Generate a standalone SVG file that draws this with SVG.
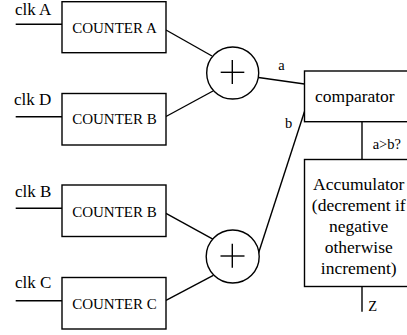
<svg xmlns="http://www.w3.org/2000/svg" width="407" height="335" viewBox="0 0 407 335">
<style>
.box{fill:#fff;stroke:#000;stroke-width:1.4}
.ln{fill:none;stroke:#000;stroke-width:1.4}
.cnt{font-size:15px;text-anchor:middle}
.clk{font-size:17px}
.big{font-size:17.5px}
.acc{font-size:17.5px;text-anchor:middle}
.sm{font-size:14.5px}
</style>
<rect width="407" height="335" fill="#fff"/>
<g font-family="'Liberation Serif', 'Times New Roman', serif" fill="#000">
<g id="connectors">
<line class="ln" x1="15.7" y1="24.3" x2="62" y2="24.3"/>
<line class="ln" x1="15.7" y1="116.7" x2="62" y2="116.7"/>
<line class="ln" x1="15.7" y1="208.3" x2="62" y2="208.3"/>
<line class="ln" x1="15.7" y1="300.7" x2="62" y2="300.7"/>
<line class="ln" x1="166" y1="30" x2="212" y2="56"/>
<line class="ln" x1="166" y1="116.5" x2="213" y2="91"/>
<line class="ln" x1="166" y1="213.3" x2="213.3" y2="239.3"/>
<line class="ln" x1="166" y1="300.3" x2="213.3" y2="275.3"/>
<line class="ln" x1="258.5" y1="77.5" x2="304.5" y2="84"/>
<line class="ln" x1="258.3" y1="253.7" x2="304.5" y2="111.5"/>
<line class="ln" x1="362" y1="121.7" x2="362" y2="159.5"/>
<line class="ln" x1="362" y1="286.5" x2="362" y2="311.7"/>
<text class="sm" x="278.3" y="70">a</text>
<text class="sm" x="285" y="127.7">b</text>
<text class="sm" x="372.7" y="149.3">a&gt;b?</text>
<text class="sm" x="368.3" y="310.7">Z</text>
</g>
<g id="clkA"><text class="clk" x="15" y="14.5">clk A</text></g>
<g id="clkD"><text class="clk" x="14" y="105">clk D</text></g>
<g id="clkB"><text class="clk" x="15" y="197.3">clk B</text></g>
<g id="clkC"><text class="clk" x="15" y="288.3">clk C</text></g>
<g id="counterA">
<rect class="box" x="62" y="1.7" width="104" height="51"/>
<text class="cnt" x="114.5" y="33.3">COUNTER A</text>
</g>
<g id="counterB1">
<rect class="box" x="62" y="93.5" width="104" height="51.5"/>
<text class="cnt" x="114.5" y="124">COUNTER B</text>
</g>
<g id="counterB2">
<rect class="box" x="62" y="185" width="104" height="51.5"/>
<text class="cnt" x="114.5" y="217.3">COUNTER B</text>
</g>
<g id="counterC">
<rect class="box" x="62" y="277.5" width="104" height="51.5"/>
<text class="cnt" x="114.5" y="309.3">COUNTER C</text>
</g>
<g id="adder1">
<circle class="box" cx="232.7" cy="73" r="26"/>
<line class="ln" x1="220.7" y1="72.3" x2="244.3" y2="72.3"/>
<line class="ln" x1="232.3" y1="60" x2="232.3" y2="84"/>
</g>
<g id="adder2">
<circle class="box" cx="232.7" cy="256.5" r="26.5"/>
<line class="ln" x1="220.5" y1="256" x2="244.5" y2="256"/>
<line class="ln" x1="232.3" y1="243.7" x2="232.3" y2="267.7"/>
</g>
<g id="comparator">
<rect class="box" x="304.5" y="71" width="110" height="50.7"/>
<text class="big" x="315" y="101.7">comparator</text>
</g>
<g id="accumulator">
<rect class="box" x="304.5" y="159.5" width="110" height="127"/>
<text class="acc" x="358.7" y="189.5">Accumulator</text>
<text class="acc" x="358.7" y="211">(decrement if</text>
<text class="acc" x="358.7" y="232">negative</text>
<text class="acc" x="358.7" y="253">otherwise</text>
<text class="acc" x="358.7" y="274">increment)</text>
</g>
</g>
</svg>
